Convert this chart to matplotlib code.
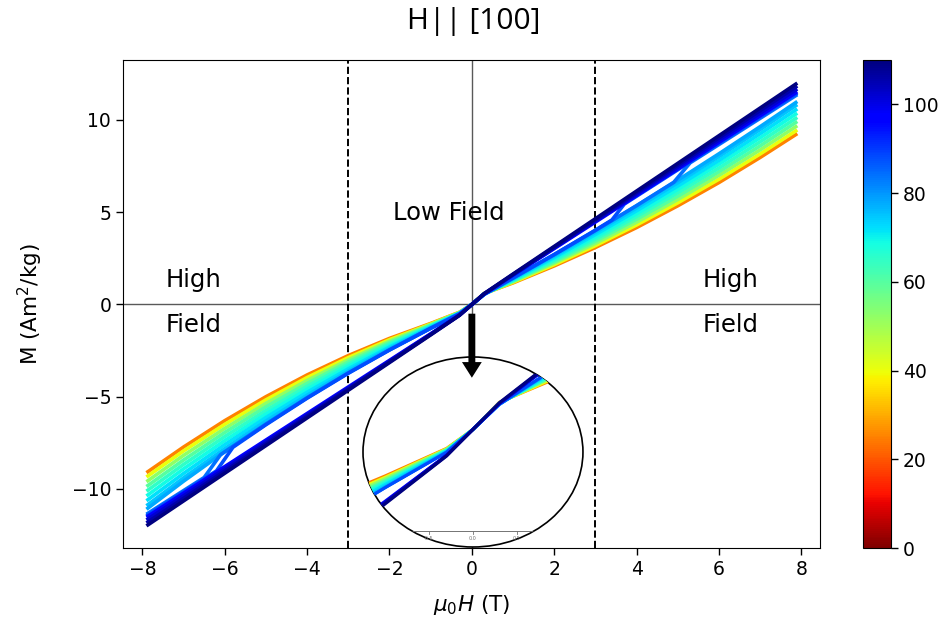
import matplotlib
matplotlib.use('Agg')
import matplotlib.pyplot as plt
from matplotlib.patches import Ellipse, FancyArrowPatch
from matplotlib import cm, colors

plt.rcParams['font.family'] = ['DejaVu Sans']

# field points (T) shared by the smooth curves
fields = [-7.9, -7.0, -6.0, -5.0, -4.0, -3.0, -2.0, -1.0, -0.3, 0.0,
          0.3, 1.0, 2.0, 3.0, 4.0, 5.0, 6.0, 7.0, 7.9]

# low temperature branch, M in Am2/kg
low_temps = [25, 40, 52, 60, 65, 69, 72, 75, 78]
low_curves = [
    [-9.12, -7.73, -6.30, -5.00, -3.82, -2.77, -1.84, -1.03, -0.42, 0, 0.60, 1.17, 2.09, 3.09, 4.17, 5.35, 6.61, 7.97, 9.26],
    [-9.35, -7.94, -6.50, -5.17, -3.96, -2.88, -1.91, -1.06, -0.43, 0, 0.59, 1.20, 2.16, 3.19, 4.31, 5.51, 6.79, 8.16, 9.46],
    [-9.61, -8.18, -6.72, -5.36, -4.12, -3.00, -1.99, -1.09, -0.44, 0, 0.59, 1.24, 2.24, 3.31, 4.46, 5.69, 7.00, 8.38, 9.69],
    [-9.87, -8.43, -6.94, -5.55, -4.28, -3.12, -2.07, -1.13, -0.45, 0, 0.58, 1.27, 2.31, 3.43, 4.62, 5.87, 7.20, 8.60, 9.92],
    [-10.12, -8.67, -7.16, -5.75, -4.44, -3.24, -2.15, -1.16, -0.46, 0, 0.57, 1.30, 2.39, 3.55, 4.77, 6.06, 7.40, 8.82, 10.14],
    [-10.38, -8.91, -7.38, -5.94, -4.60, -3.36, -2.23, -1.19, -0.47, 0, 0.57, 1.33, 2.47, 3.67, 4.92, 6.24, 7.61, 9.04, 10.37],
    [-10.64, -9.16, -7.60, -6.13, -4.76, -3.49, -2.31, -1.22, -0.48, 0, 0.56, 1.37, 2.55, 3.79, 5.08, 6.42, 7.81, 9.26, 10.60],
    [-10.91, -9.40, -7.82, -6.32, -4.92, -3.61, -2.39, -1.26, -0.49, 0, 0.56, 1.40, 2.63, 3.91, 5.23, 6.60, 8.02, 9.48, 10.83],
    [-11.10, -9.58, -7.98, -6.47, -5.04, -3.70, -2.45, -1.28, -0.50, 0, 0.55, 1.43, 2.69, 4.00, 5.35, 6.74, 8.17, 9.64, 11.00],
]

# curves that switch over to the high branch inside the field range
jump_temps = [84, 88]
jump_fields = [
    [-7.9, -7.0, -6.5, -6.1, -5.0, -4.0, -3.0, -2.0, -1.0, -0.3, 0.0,
     0.3, 1.0, 2.0, 3.0, 4.0, 4.9, 5.3, 6.0, 7.0, 7.9],
    [-7.9, -7.0, -6.2, -5.8, -5.0, -4.0, -3.0, -2.0, -1.0, -0.3, 0.0,
     0.3, 1.0, 2.0, 3.0, 3.4, 3.7, 4.0, 5.0, 6.0, 7.0, 7.9],
]
jump_curves = [
    [-11.37, -10.09, -9.38, -8.14, -6.49, -5.06, -3.71, -2.46, -1.29, -0.50, 0,
     0.55, 1.43, 2.70, 4.01, 5.36, 6.62, 7.68, 8.67, 10.09, 11.37],
    [-11.45, -10.16, -9.02, -7.74, -6.52, -5.08, -3.73, -2.47, -1.29, -0.51, 0,
     0.56, 1.44, 2.71, 4.03, 4.58, 5.44, 5.87, 7.30, 8.73, 10.16, 11.45],
]

# high temperature, nearly linear
high_temps = [96, 102, 106, 110]
high_curves = [
    [-11.53, -10.23, -8.79, -7.35, -5.91, -4.47, -3.03, -1.59, -0.57, 0, 0.57, 1.59, 3.03, 4.47, 5.91, 7.35, 8.79, 10.23, 11.53],
    [-11.68, -10.37, -8.91, -7.45, -5.99, -4.53, -3.07, -1.61, -0.57, 0, 0.57, 1.61, 3.07, 4.53, 5.99, 7.45, 8.91, 10.37, 11.68],
    [-11.84, -10.51, -9.03, -7.55, -6.07, -4.59, -3.11, -1.63, -0.58, 0, 0.58, 1.63, 3.11, 4.59, 6.07, 7.55, 9.03, 10.51, 11.84],
    [-12.00, -10.65, -9.15, -7.65, -6.15, -4.65, -3.15, -1.65, -0.59, 0, 0.59, 1.65, 3.15, 4.65, 6.15, 7.65, 9.15, 10.65, 12.00],
]

region_edges = [-3, 3]
cbar_ticks = [0, 20, 40, 60, 80, 100]
inset_ticks = [-0.5, 0.0, 0.5]

cmap = plt.get_cmap('jet_r')
norm = colors.Normalize(vmin=0, vmax=110)

series = []
for T, M in zip(low_temps, low_curves):
    series.append((T, fields, M))
for T, H, M in zip(jump_temps, jump_fields, jump_curves):
    series.append((T, H, M))
for T, M in zip(high_temps, high_curves):
    series.append((T, fields, M))
series.sort(key=lambda s: s[0])

fig = plt.figure(figsize=(9.51, 6.25), dpi=100)
ax = fig.add_axes([0.1293, 0.1232, 0.7329, 0.7808])

ax.axhline(0, color='0.35', lw=1, zorder=1)
ax.axvline(0, color='0.35', lw=1, zorder=1)
for x in region_edges:
    ax.axvline(x, color='k', ls='--', lw=1.4, zorder=1)

for T, H, M in series:
    ax.plot(H, M, color=cmap(norm(T)), lw=2.6, solid_capstyle='butt', zorder=2)

ax.set_xlim(-8.47, 8.45)
ax.set_ylim(-13.2, 13.25)
ax.set_xticks([-8, -6, -4, -2, 0, 2, 4, 6, 8])
ax.set_yticks([-10, -5, 0, 5, 10])
ax.tick_params(labelsize=13.5, length=5, width=1)
ax.set_ylabel('M (Am$^2$/kg)', fontsize=15.5)
ax.yaxis.set_label_coords(-0.112, 0.5)
ax.set_xlabel(r'$\mu_0H$ (T)', fontsize=15.5)
ax.xaxis.set_label_coords(0.5, -0.093)

ax.text(-0.55, 4.58, 'Low Field', fontsize=17.5, ha='center', va='baseline', zorder=3)
ax.text(-6.76, 0.95, 'High', fontsize=17.5, ha='center', va='baseline')
ax.text(-6.76, -1.49, 'Field', fontsize=17.5, ha='center', va='baseline')
ax.text(6.29, 0.95, 'High', fontsize=17.5, ha='center', va='baseline')
ax.text(6.29, -1.49, 'Field', fontsize=17.5, ha='center', va='baseline')

# zoom on the origin, cut out by an ellipse
axin = fig.add_axes([0.3817, 0.1248, 0.2313, 0.304])
axin.axis('off')
axin.set_xlim(-1.25, 1.25)
axin.set_ylim(-2.6, 1.6)
ell = Ellipse((0.5, 0.5), 1, 1, transform=axin.transAxes, facecolor='white',
              edgecolor='k', lw=1.2, clip_on=False, zorder=0)
axin.add_patch(ell)
for T, H, M in series:
    ln, = axin.plot(H, M, color=cmap(norm(T)), lw=2.2, zorder=2)
    ln.set_clip_path(ell)
base = axin.axhline(-2.25, color='0.45', lw=0.7, zorder=1)
base.set_clip_path(ell)
for t in inset_ticks:
    axin.plot([t, t], [-2.25, -2.31], color='0.45', lw=0.6)
    axin.text(t, -2.36, f'{t:.1f}', fontsize=3.5, color='0.45', ha='center', va='top')

# arrow from the origin down into the zoom
arrow = FancyArrowPatch((0, -0.5), (0, -3.97), transform=ax.transData,
                        arrowstyle='simple,head_width=0.95,head_length=0.75,tail_width=0.33',
                        mutation_scale=15, fc='k', ec='k', lw=0,
                        shrinkA=0, shrinkB=0, clip_on=False, zorder=5)
fig.add_artist(arrow)

cax = fig.add_axes([0.9075, 0.1232, 0.0294, 0.7808])
sm = cm.ScalarMappable(norm=norm, cmap=cmap)
cb = fig.colorbar(sm, cax=cax, ticks=cbar_ticks)
cb.ax.tick_params(labelsize=13.5, length=5, width=1)

fig.text(0.498, 0.965, 'H|| [100]', ha='center', va='center', fontsize=21.5, family='Open Sans')

fig.savefig('out.png', dpi=100)
